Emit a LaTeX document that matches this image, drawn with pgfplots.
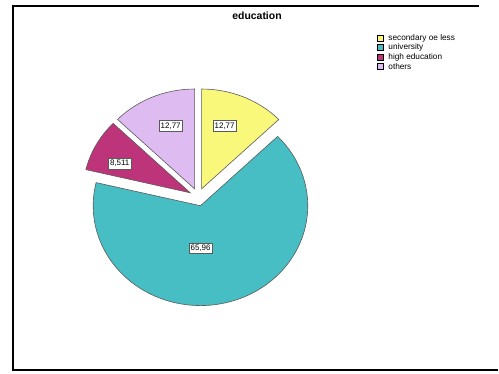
\documentclass[border=0pt]{standalone}
\usepackage{pgfplots}
\pgfplotsset{compat=1.18}
\usepackage{fontspec}
\setmainfont{Liberation Sans}
\definecolor{cyel}{RGB}{250,248,122}
\definecolor{cteal}{RGB}{70,190,196}
\definecolor{cmag}{RGB}{190,52,122}
\definecolor{clil}{RGB}{222,188,242}
\definecolor{cedge}{RGB}{90,90,90}
% values (percent)
\def\vA{12.77}  % secondary or less
\def\vB{65.96}  % university
\def\vC{8.511}  % high education
\def\vD{12.77}  % others
\begin{document}
\begin{tikzpicture}
\pgfmathsetmacro{\aA}{90}
\pgfmathsetmacro{\aB}{\aA-3.6*\vA}
\pgfmathsetmacro{\aC}{\aB-3.6*\vB}
\pgfmathsetmacro{\aD}{\aC-3.6*\vC}
\pgfmathsetmacro{\aE}{\aD-3.6*\vD}
\def\cx{198.5}\def\cy{176.5}\def\rx{107.5}\def\ry{100}\def\dd{9}
\pgfmathsetmacro{\xA}{\cx+\dd*cos((\aA+\aB)/2)}\pgfmathsetmacro{\yA}{\cy+\dd*sin((\aA+\aB)/2)}
\pgfmathsetmacro{\xB}{\cx+\dd*cos((\aB+\aC)/2)}\pgfmathsetmacro{\yB}{\cy+\dd*sin((\aB+\aC)/2)}
\pgfmathsetmacro{\xC}{\cx+\dd*cos((\aC+\aD)/2)}\pgfmathsetmacro{\yC}{\cy+\dd*sin((\aC+\aD)/2)}
\pgfmathsetmacro{\xD}{\cx+\dd*cos((\aD+\aE)/2)}\pgfmathsetmacro{\yD}{\cy+\dd*sin((\aD+\aE)/2)}
\begin{axis}[width=499bp,height=374bp,scale only axis,
  xmin=0,xmax=499,ymin=0,ymax=374,hide axis,clip=false,
  every axis plot/.append style={line width=0.6bp}]
\path (axis cs:0,0) rectangle (axis cs:499,374);
% frame
\addplot[black,line width=2bp,mark=none] coordinates {(480,368) (13,368) (13,3) (499,3)};
% slices
\addplot[fill=cyel,draw=cedge,domain=\aB:\aA,samples=40,variable=\t]
  ({\xA+\rx*cos(\t)},{\yA+\ry*sin(\t)}) -- (axis cs:\xA,\yA) -- cycle;
\addplot[fill=cteal,draw=cedge,domain=\aC:\aB,samples=160,variable=\t]
  ({\xB+\rx*cos(\t)},{\yB+\ry*sin(\t)}) -- (axis cs:\xB,\yB) -- cycle;
\addplot[fill=cmag,draw=cedge,domain=\aD:\aC,samples=30,variable=\t]
  ({\xC+\rx*cos(\t)},{\yC+\ry*sin(\t)}) -- (axis cs:\xC,\yC) -- cycle;
\addplot[fill=clil,draw=cedge,domain=\aE:\aD,samples=40,variable=\t]
  ({\xD+\rx*cos(\t)},{\yD+\ry*sin(\t)}) -- (axis cs:\xD,\yD) -- cycle;
% value labels
\tikzset{vl/.style={draw=cedge,fill=white,line width=0.5bp,inner xsep=1.5bp,inner ysep=1.8bp,font=\fontsize{8}{9}\selectfont}}
\node[vl] at (axis cs:225,248) {12,77};
\node[vl] at (axis cs:201,125) {65,96};
\node[vl] at (axis cs:120,210) {8,511};
\node[vl] at (axis cs:171,248) {12,77};
% title
\node[font=\bfseries\fontsize{10.5}{12}\selectfont] at (axis cs:257.5,358) {education};
% legend
\addplot[only marks,mark=square*,mark size=3bp,mark options={fill=cyel,draw=black,line width=0.5bp}] coordinates {(381,336)};
\addplot[only marks,mark=square*,mark size=3bp,mark options={fill=cteal,draw=black,line width=0.5bp}] coordinates {(381,326.5)};
\addplot[only marks,mark=square*,mark size=3bp,mark options={fill=cmag,draw=black,line width=0.5bp}] coordinates {(381,317)};
\addplot[only marks,mark=square*,mark size=3bp,mark options={fill=clil,draw=black,line width=0.5bp}] coordinates {(381,307.5)};
\tikzset{lt/.style={anchor=west,inner sep=0pt,font=\fontsize{8.3}{9}\selectfont}}
\node[lt] at (axis cs:389,336) {secondary oe less};
\node[lt] at (axis cs:389,326.5) {university};
\node[lt] at (axis cs:389,317) {high education};
\node[lt] at (axis cs:389,307.5) {others};
\end{axis}
\end{tikzpicture}
\end{document}
